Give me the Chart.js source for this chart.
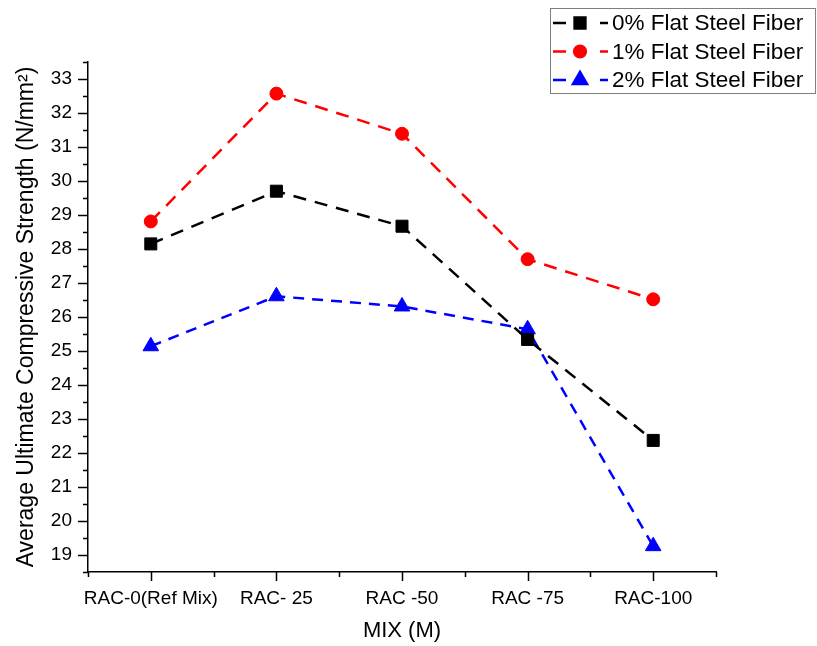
<!DOCTYPE html>
<html>
<head>
<meta charset="utf-8">
<script src="https://cdn.jsdelivr.net/npm/chart.js@4.4.1/dist/chart.umd.min.js"></script>
<style>
  html, body { margin: 0; padding: 0; background: #fff; }
</style>
</head>
<body>
<canvas id="myChart" width="817" height="646"></canvas>
<script>
// data
const mixes = ['RAC-0(Ref Mix)', 'RAC- 25', 'RAC -50', 'RAC -75', 'RAC-100']
const fiber0 = [28.15, 29.70, 28.67, 25.34, 22.37]
const fiber1 = [28.81, 32.57, 31.39, 27.70, 26.52]
const fiber2 = [25.14, 26.61, 26.31, 25.64, 19.26]
const seriesNames = ['0% Flat Steel Fiber', '1% Flat Steel Fiber', '2% Flat Steel Fiber']
const yMin = 18.5, yMax = 33.5

const FONT = 'Liberation Sans, Arial, sans-serif'
const isWhole = v => Math.abs(v - Math.round(v)) < 1e-6
const toPoints = arr => arr.map((v, i) => ({ x: i, y: v }))

// ticks on the outside of both axes, long on whole values, short on halves
const tickMarks = {
  id: 'tickMarks',
  afterDraw(chart) {
    const { ctx, chartArea: a } = chart
    const x = chart.scales.x, y = chart.scales.y
    ctx.save()
    ctx.strokeStyle = '#000'
    ctx.lineWidth = 1.5
    ctx.beginPath()
    x.ticks.forEach(t => {
      const px = Math.round(x.getPixelForValue(t.value)) + 0.5
      ctx.moveTo(px, a.bottom)
      ctx.lineTo(px, a.bottom + (isWhole(t.value) ? 9 : 5))
    })
    y.ticks.forEach(t => {
      const py = Math.round(y.getPixelForValue(t.value)) + 0.5
      ctx.moveTo(a.left, py)
      ctx.lineTo(a.left - (isWhole(t.value) ? 10 : 5), py)
    })
    ctx.stroke()
    ctx.restore()
  }
}

// boxed legend in the top right corner: dash, marker, dash, name
const boxLegend = {
  id: 'boxLegend',
  afterDraw(chart) {
    const ctx = chart.ctx
    const left = 550, top = 8, w = 266, h = 86
    ctx.save()
    ctx.fillStyle = '#fff'
    ctx.fillRect(left, top, w, h)
    ctx.strokeStyle = '#7f7f7f'
    ctx.lineWidth = 1
    ctx.strokeRect(left + 0.5, top + 0.5, w - 1, h - 1)
    chart.data.datasets.forEach((ds, i) => {
      const cy = 23 + i * 28.5
      ctx.strokeStyle = ds.borderColor
      ctx.lineWidth = 2.5
      ctx.beginPath()
      ctx.moveTo(553, cy); ctx.lineTo(566, cy)
      ctx.moveTo(600, cy); ctx.lineTo(608, cy)
      ctx.stroke()
      ctx.fillStyle = ds.backgroundColor
      Chart.helpers.drawPoint(ctx, { pointStyle: ds.pointStyle, radius: ds.pointRadius * 0.9, rotation: 0, borderWidth: 1 }, 580, cy)
      ctx.fillStyle = '#000'
      ctx.font = '22.5px ' + FONT
      ctx.textBaseline = 'middle'
      ctx.fillText(ds.label, 612, cy + 1)
    })
    ctx.restore()
  }
}

const makeSet = (label, values, color, style, radius, dash) => ({
  label: label,
  data: toPoints(values),
  borderColor: color,
  backgroundColor: color,
  borderWidth: 2.5,
  borderDash: dash,
  pointStyle: style,
  pointRadius: radius,
  pointHoverRadius: radius,
  pointBorderWidth: 1,
  tension: 0
})

const canvas = document.getElementById('myChart')
const myChart = new Chart(canvas, {
  type: 'line',
  data: {
    datasets: [
      makeSet(seriesNames[0], fiber0, '#000000', 'rect', 8.5, [13, 9]),
      makeSet(seriesNames[1], fiber1, '#ff0000', 'circle', 6.5, [13, 9]),
      makeSet(seriesNames[2], fiber2, '#0000ff', 'triangle', 9, [11, 8])
    ]
  },
  options: {
    responsive: false,
    animation: false,
    layout: { padding: { top: 62, right: 101, bottom: 0, left: 0 } },
    plugins: { legend: { display: false }, tooltip: { enabled: false } },
    scales: {
      x: {
        type: 'linear',
        min: -0.5,
        max: 4.5,
        afterFit: s => { s.height = 74 },
        grid: { display: false, drawTicks: false },
        border: { display: true, color: '#000', width: 1.5 },
        ticks: {
          stepSize: 0.5,
          autoSkip: false,
          maxRotation: 0,
          padding: 15,
          color: '#000',
          font: { family: FONT, size: 19 },
          callback: v => isWhole(v) && mixes[Math.round(v)] !== undefined ? mixes[Math.round(v)] : ''
        },
        title: {
          display: true,
          text: 'MIX (M)',
          color: '#000',
          font: { family: FONT, size: 22 },
          padding: { top: 0, bottom: 2 }
        }
      },
      y: {
        min: yMin,
        max: yMax,
        afterFit: s => { s.width = 88 },
        grid: { display: false, drawTicks: false },
        border: { display: true, color: '#000', width: 1.5 },
        ticks: {
          stepSize: 0.5,
          autoSkip: false,
          padding: 16,
          color: '#000',
          font: { family: FONT, size: 19 },
          callback: v => isWhole(v) ? String(Math.round(v)) : ''
        },
        title: {
          display: true,
          text: 'Average Ultimate Compressive Strength (N/mm²)',
          color: '#000',
          font: { family: FONT, size: 23 },
          padding: { top: 13, bottom: 0 }
        }
      }
    }
  },
  plugins: [tickMarks, boxLegend]
})
</script>
</body>
</html>
